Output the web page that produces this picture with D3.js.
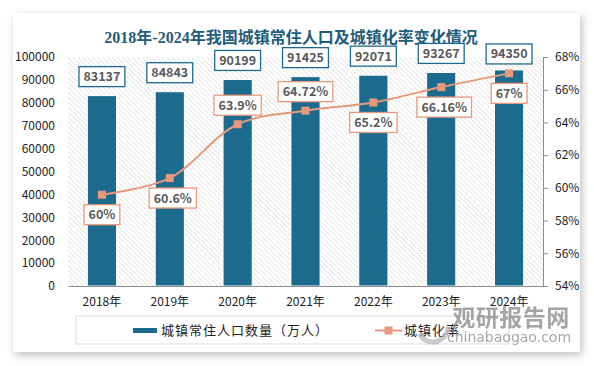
<!DOCTYPE html>
<html>
<head>
<meta charset="utf-8">
<script src="https://cdn.jsdelivr.net/npm/d3@7"></script>
<style>
  body { margin: 0; background: #fff; }
  text { font-family: "Noto Sans CJK SC", "DejaVu Sans", sans-serif; }
</style>
</head>
<body>
<svg id="chart" width="594" height="366"></svg>
<script>
// data
var years = ["2018年", "2019年", "2020年", "2021年", "2022年", "2023年", "2024年"];
var population = [83137, 84843, 90199, 91425, 92071, 93267, 94350];
var rate = [59.58, 60.6, 63.89, 64.72, 65.22, 66.16, 67.0];
var rateLabels = ["60%", "60.6%", "63.9%", "64.72%", "65.2%", "66.16%", "67%"];
var rateLabelSide = ["below", "below", "above", "above", "below", "below", "below"];
var leftTicks = [0, 10000, 20000, 30000, 40000, 50000, 60000, 70000, 80000, 90000, 100000];
var rightTicks = [54, 56, 58, 60, 62, 64, 66, 68];

var blue = "#1c6b8f", orange = "#e9997b";
var plotL = 68, plotR = 543, plotT = 57, plotB = 286;

var svg = d3.select("#chart");
var defs = svg.append("defs");

var shadow = defs.append("filter").attr("id", "shadow")
    .attr("x", "-5%").attr("y", "-5%").attr("width", "110%").attr("height", "115%");
shadow.append("feGaussianBlur").attr("in", "SourceAlpha").attr("stdDeviation", 4);
shadow.append("feOffset").attr("dx", 2).attr("dy", 3).attr("result", "b");
shadow.append("feComponentTransfer").append("feFuncA").attr("type", "linear").attr("slope", 0.25);
var merge = shadow.append("feMerge");
merge.append("feMergeNode");
merge.append("feMergeNode").attr("in", "SourceGraphic");

var hatch = defs.append("pattern").attr("id", "hatch")
    .attr("patternUnits", "userSpaceOnUse").attr("width", 3.5).attr("height", 3.5)
    .attr("patternTransform", "rotate(-45)");
hatch.append("rect").attr("width", 3.5).attr("height", 3.5).attr("fill", "#fff");
hatch.append("line").attr("x1", 0).attr("y1", 0).attr("x2", 0).attr("y2", 3.5)
    .attr("stroke", "#d6d6d6").attr("stroke-width", 1.2);

// card
svg.append("rect").attr("x", 13).attr("y", 13).attr("width", 567).attr("height", 339)
    .attr("fill", "#fff").attr("filter", "url(#shadow)");

svg.append("text")
    .attr("x", 291).attr("y", 43)
    .attr("text-anchor", "middle")
    .attr("font-size", 16).attr("font-weight", "bold")
    .attr("fill", "#1f5d7c")
    .style("font-family", "'Liberation Serif', 'Noto Sans CJK SC', serif")
    .text("2018年-2024年我国城镇常住人口及城镇化率变化情况");

var x = d3.scaleBand().domain(years).range([plotL, plotR]).paddingInner(0.57).paddingOuter(0.285);
var yL = d3.scaleLinear().domain([0, 100000]).range([plotB, plotT]);
var yR = d3.scaleLinear().domain([54, 68]).range([plotB, plotT]);
var cx = function(d) { return x(d) + x.bandwidth() / 2; };

svg.append("rect").attr("x", plotL).attr("y", plotT)
    .attr("width", plotR - plotL).attr("height", plotB - plotT)
    .attr("fill", "url(#hatch)");

// bars
svg.selectAll(".bar").data(population).enter().append("rect")
    .attr("class", "bar")
    .attr("x", function(d, i) { return x(years[i]); })
    .attr("y", function(d) { return yL(d); })
    .attr("width", x.bandwidth())
    .attr("height", function(d) { return plotB - yL(d); })
    .attr("fill", blue).attr("stroke", "#fff").attr("stroke-width", 1);

// axes
var axL = svg.append("g").attr("transform", "translate(" + plotL + ",0)")
    .call(d3.axisLeft(yL).tickValues(leftTicks).tickSize(0).tickPadding(13).tickFormat(d3.format("d")));
axL.select(".domain").remove();

var axR = svg.append("g").attr("transform", "translate(" + plotR + ",0)")
    .call(d3.axisRight(yR).tickValues(rightTicks).tickSize(5).tickPadding(7).tickFormat(function(d) { return d + "%"; }));
axR.select(".domain").attr("stroke", "#8c8c8c");
axR.selectAll(".tick line").attr("stroke", "#8c8c8c");

var axB = svg.append("g").attr("transform", "translate(0," + plotB + ")")
    .call(d3.axisBottom(x).tickSize(0).tickPadding(11));
axB.select(".domain").attr("stroke", "#8c8c8c");

svg.selectAll(".tick text").attr("font-size", 12).attr("fill", "#222")
    .style("font-family", "'Noto Sans CJK SC', sans-serif");

// line
var pts = rate.map(function(d, i) { return [cx(years[i]), yR(d)]; });
svg.append("path").datum(pts)
    .attr("d", d3.line().curve(d3.curveCatmullRom.alpha(0.5)))
    .attr("fill", "none").attr("stroke", orange).attr("stroke-width", 2);
svg.selectAll(".mk").data(pts).enter().append("rect")
    .attr("x", function(d) { return d[0] - 4; }).attr("y", function(d) { return d[1] - 4; })
    .attr("width", 8).attr("height", 8).attr("fill", orange);

// labels
function box(g, txt, px, py, col) {
    var t = g.append("text").attr("x", px).attr("y", py).attr("dy", "0.36em")
        .attr("text-anchor", "middle").attr("font-size", 12.5).attr("font-weight", "bold")
        .attr("fill", "#595959").style("font-family", "'Noto Sans CJK SC', sans-serif").text(txt);
    var w = t.node().getComputedTextLength() + 9;
    g.insert("rect", "text").attr("x", px - w / 2).attr("y", py - 10)
        .attr("width", w).attr("height", 20)
        .attr("fill", "#fff").attr("stroke", col).attr("stroke-width", 1.3);
}
population.forEach(function(d, i) {
    box(svg.append("g"), d, cx(years[i]), yL(d) - (i == 6 ? 16 : 19), blue);
});
rate.forEach(function(d, i) {
    var off = rateLabelSide[i] == "above" ? -19 : 20;
    box(svg.append("g"), rateLabels[i], cx(years[i]) + (i == 1 || i == 5 ? 3 : 0), yR(d) + off, orange);
});

// legend
var lg = svg.append("g");
lg.append("rect").attr("x", 76).attr("y", 316).attr("width", 433).attr("height", 28)
    .attr("fill", "none").attr("stroke", "#d9d9d9").attr("stroke-width", 1);
lg.append("rect").attr("x", 133).attr("y", 328).attr("width", 24).attr("height", 5).attr("fill", blue);
lg.append("text").attr("x", 161).attr("y", 335).attr("font-size", 13).attr("fill", "#222")
    .attr("letter-spacing", 1).text("城镇常住人口数量（万人）");
lg.append("line").attr("x1", 375).attr("x2", 402).attr("y1", 330.5).attr("y2", 330.5)
    .attr("stroke", orange).attr("stroke-width", 2);
lg.append("rect").attr("x", 384.5).attr("y", 326.5).attr("width", 8).attr("height", 8).attr("fill", orange);
lg.append("text").attr("x", 404).attr("y", 335).attr("font-size", 13).attr("fill", "#222")
    .attr("letter-spacing", 1).text("城镇化率");

// watermark
var wm = svg.append("g").attr("opacity", 0.7);
wm.append("circle").attr("cx", 433).attr("cy", 327).attr("r", 15)
    .attr("fill", "none").attr("stroke", "#b5b5b5").attr("stroke-width", 5)
    .attr("stroke-dasharray", "40 60");
wm.append("text").attr("x", 511).attr("y", 326).attr("text-anchor", "middle")
    .attr("font-size", 23).attr("font-weight", "bold").attr("fill", "#808080")
    .attr("letter-spacing", 0.5).text("观研报告网");
wm.append("text").attr("x", 509).attr("y", 342).attr("text-anchor", "middle")
    .attr("font-size", 14).attr("fill", "#808080")
    .style("font-family", "'DejaVu Sans', sans-serif").text("chinabaogao.com");
</script>
</body>
</html>
